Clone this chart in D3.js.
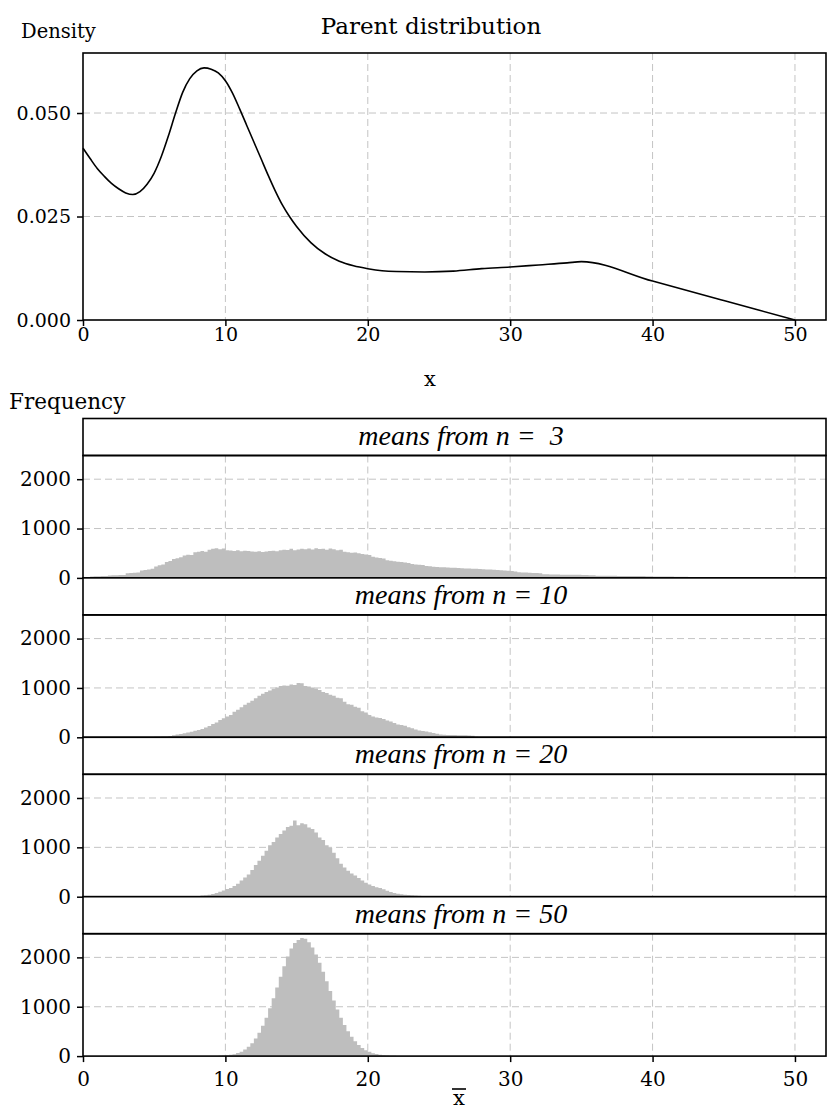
<!DOCTYPE html>
<html><head><meta charset="utf-8">
<script src="https://cdn.jsdelivr.net/npm/d3@7/dist/d3.min.js"></script>
<style>
body{margin:0;background:#fff}
svg{display:block}
text{font-family:"DejaVu Serif",serif;fill:#000}
</style>
</head><body>
<svg id="chart" width="827" height="1109"></svg>
<script>
// ---------- data ----------
const densityX = [0,0.5,1,1.5,2,2.5,3,3.5,4,4.5,5,5.5,6,6.5,7,7.5,8,8.5,9,9.5,10,10.5,11,11.5,12,12.5,13,13.5,14,14.5,15,16,17,18,19,20,21,22,24,26,28,30,32,34,35,40,45,50];
const densityY = [0.0415,0.0390,0.0366,0.0347,0.0330,0.0317,0.0307,0.0303,0.0310,0.0328,0.0355,0.0395,0.0445,0.0500,0.0550,0.0583,0.0602,0.0609,0.0606,0.0597,0.0578,0.0548,0.0510,0.0470,0.0430,0.0390,0.0350,0.0312,0.0278,0.0250,0.0226,0.0187,0.0160,0.0142,0.0131,0.0124,0.0119,0.0117,0.0116,0.0118,0.0124,0.0128,0.0133,0.0138,0.0141,0.0094,0.0047,0.0000];
const xTicks = [0,10,20,30,40,50];
const densityTicks = [0,0.025,0.05];
const densityTickLabels = ["0.000","0.025","0.050"];
const freqTicks = [0,1000,2000];
const binWidth = 0.25;
const stripLabels = ["means from n =  3","means from n = 10","means from n = 20","means from n = 50"];

const binStartN3 = 0;
const countsN3 = [12,15, 30,32,35,36,38, 50,55,56,58,60, 95,100,105,110, 150,160,170,185, 230,255,270, 320,340, 385,400,420, 455,470,465, 520,530,545,530, 570,590,600,580,595,
 560,555,545,560,540,550,545, 535,530,540,525,535, 545,550,540,560, 570,565,590,560,575,
 590,580,595,575,600,585,590,570,595,580,560,570, 530,520,510,515,500, 485,475,465, 430,415,405,395,
 360,345,335,325,320,310,300, 280,270,265,260, 240,235,225,220,215,215,210, 205,205,200, 195,190,188,185,185,180,
 175,172,170,165,160, 155,150,145, 138,132, 115,110,108,105, 100,98,95,
 75,72,70,68,68,66,66,64,63,62,62,60, 58,56,54,
 45,44,43,43,42,42,41,40,40,39,38,38,37,36,35,34,
 30,29,28,28,27,26,25,24,23,22,20, 12,10,9,10,8,6,5,3,2];

const binStartN10 = 4.5;
const countsN10 = [5,8,10,12,15,18, 25,40,55,65, 80,95,110,135, 150,170,200,230, 270,300,350,385,
 420,450,520,560, 610,660,700,740, 790,840,880,920, 950,985,1010,1040, 1050,1045,1070,1060,
 1100,1095,1040,1030, 1010,990,960,920, 900,860,840,800, 790,720,670,660, 620,600,530,500,
 450,420,400,390, 370,340,320,290, 260,250,235,205, 185,160,140,130, 120,100,85,70,
 55,50,48,46, 45,44,42,40, 35,30,12,8, 6,5,4,3, 2,2,1,1, 0,0,0,0, 0,2,0,1,2,1];

const binStartN20 = 6.0;
const countsN20 = [2,2,3,4, 5,7,9,12, 16,22,30,42, 55,75,98,125, 155,175,215,260, 330,390,450,540,
 640,730,830,930, 1040,1110,1200,1270, 1340,1410,1440,1545, 1450,1490,1470,1400, 1370,1300,1200,1150,
 1040,990,890,780, 670,590,525,470, 430,380,330,285, 245,215,190,175, 150,120,95,75,
 60,50,42,35, 30,25,20,16, 13,11,9,7, 6,5,4,3, 3,2,2,1, 1];

const binStartN50 = 8.5;
const countsN50 = [1,2,3,4,6,10,16,25,40,61,90,132,188,261,355,472,614,779,967,1172,1390,1609,1822,2016,
 2179,2290,2350,2395,2380,2305,2198,2058,1893,1709,1515,1318,1127,946,779,631,501,391,299,225,
 166,120,86,60,41,28,19,13,9,6,4,3,2,1];

const panels = [
  {label: stripLabels[0], start: binStartN3, counts: countsN3},
  {label: stripLabels[1], start: binStartN10, counts: countsN10},
  {label: stripLabels[2], start: binStartN20, counts: countsN20},
  {label: stripLabels[3], start: binStartN50, counts: countsN50}
];

// ---------- layout ----------
const svg = d3.select("#chart");
const L = 83, R = 826;
const gridColor = "#c4c4c4";
const barColor = "#bebebe";

// Top panel
const topY0 = 53, topY1 = 320;
const xTop = d3.scaleLinear().domain([0, 52.18]).range([L, R]);
const yTop = d3.scaleLinear().domain([0, 0.0645]).range([topY1, topY0]);

const gTop = svg.append("g");
gTop.selectAll("line.vg").data(xTicks.filter(d=>d>0)).join("line")
  .attr("x1", d=>xTop(d)).attr("x2", d=>xTop(d)).attr("y1", topY0).attr("y2", topY1)
  .attr("stroke", gridColor).attr("stroke-dasharray","7,4");
gTop.selectAll("line.hg").data(densityTicks.filter(d=>d>0)).join("line")
  .attr("x1", L).attr("x2", R).attr("y1", d=>yTop(d)).attr("y2", d=>yTop(d))
  .attr("stroke", gridColor).attr("stroke-dasharray","7,4");
const pts = densityX.map((x,i)=>[x, densityY[i]]);
gTop.append("path").datum(pts)
  .attr("d", d3.line().x(d=>xTop(d[0])).y(d=>yTop(d[1])).curve(d3.curveMonotoneX))
  .attr("fill","none").attr("stroke","#000").attr("stroke-width",1.6);
gTop.append("rect").attr("x",L).attr("y",topY0).attr("width",R-L).attr("height",topY1-topY0)
  .attr("fill","none").attr("stroke","#000").attr("stroke-width",1.6);
const axTopX = gTop.append("g").attr("transform",`translate(0,${topY1})`)
  .call(d3.axisBottom(xTop).tickValues(xTicks).tickSize(6).tickPadding(2).tickFormat(d3.format("d")));
const axTopY = gTop.append("g").attr("transform",`translate(${L},0)`)
  .call(d3.axisLeft(yTop).tickValues(densityTicks).tickSize(6).tickPadding(6).tickFormat((d,i)=>densityTickLabels[i]));
[axTopX, axTopY].forEach(a=>{
  a.select(".domain").remove();
  a.selectAll(".tick line").attr("stroke","#000").attr("stroke-width",1.5);
  a.selectAll(".tick text").style("font-family","DejaVu Serif").style("font-size","19px").attr("fill","#000");
});
svg.append("text").attr("x",431).attr("y",34).attr("text-anchor","middle").style("font-size","23px").text("Parent distribution");
svg.append("text").attr("x",21).attr("y",38).style("font-size","19.5px").text("Density");
svg.append("text").attr("x",430).attr("y",386).attr("text-anchor","middle").style("font-size","21px").text("x");

// Histogram panels
const pTop0 = 418.5, pH = 159.4, stripH = 37;
const xB = d3.scaleLinear().domain([0, 52.18]).range([L, R]);
svg.append("text").attr("x",9).attr("y",409).style("font-size","21.5px").text("Frequency");

panels.forEach((p, k) => {
  const top = pTop0 + k*pH;
  const plotTop = top + stripH;
  const bottom = top + pH;
  const y = d3.scaleLinear().domain([0, 2480]).range([bottom, plotTop]);
  const g = svg.append("g");
  g.selectAll("line.vg").data(xTicks.filter(d=>d>0)).join("line")
    .attr("x1", d=>xB(d)).attr("x2", d=>xB(d)).attr("y1", plotTop).attr("y2", bottom)
    .attr("stroke", gridColor).attr("stroke-dasharray","7,4");
  g.selectAll("line.hg").data(freqTicks.filter(d=>d>0)).join("line")
    .attr("x1", L).attr("x2", R).attr("y1", d=>y(d)).attr("y2", d=>y(d))
    .attr("stroke", gridColor).attr("stroke-dasharray","7,4");
  // histogram as a stepped area (one bar per bin, no seams)
  const steps = p.counts.map((c,i)=>({x: p.start + i*binWidth, c}));
  steps.push({x: p.start + p.counts.length*binWidth, c: 0});
  g.append("path").datum(steps)
    .attr("d", d3.area().x(d=>xB(d.x)).y0(y(0)).y1(d=>y(d.c)).curve(d3.curveStepAfter))
    .attr("fill", barColor);
  g.append("rect").attr("x",L).attr("y",top).attr("width",R-L).attr("height",stripH)
    .attr("fill","#fff").attr("stroke","#000").attr("stroke-width",1.6);
  g.append("text").attr("x",461).attr("y",top+26).attr("text-anchor","middle")
    .style("font-family","'Liberation Serif',serif")
    .style("font-size","28px").style("font-style","italic").style("white-space","pre").text(p.label);
  g.append("rect").attr("x",L).attr("y",plotTop).attr("width",R-L).attr("height",bottom-plotTop)
    .attr("fill","none").attr("stroke","#000").attr("stroke-width",1.6);
  const ay = g.append("g").attr("transform",`translate(${L},0)`)
    .call(d3.axisLeft(y).tickValues(freqTicks).tickSize(6).tickPadding(6).tickFormat(d3.format("d")));
  ay.select(".domain").remove();
  ay.selectAll(".tick line").attr("stroke","#000").attr("stroke-width",1.5);
  ay.selectAll(".tick text").style("font-family","DejaVu Serif").style("font-size","20px").attr("fill","#000");
  if (k === panels.length-1) {
    const ax = g.append("g").attr("transform",`translate(0,${bottom})`)
      .call(d3.axisBottom(xB).tickValues(xTicks).tickSize(6).tickPadding(10).tickFormat(d3.format("d")));
    ax.select(".domain").remove();
    ax.selectAll(".tick line").attr("stroke","#000").attr("stroke-width",1.5);
    ax.selectAll(".tick text").style("font-family","DejaVu Serif").style("font-size","20px").attr("fill","#000");
  }
});
// x-bar label
svg.append("text").attr("x",459).attr("y",1105).attr("text-anchor","middle").style("font-size","21px").text("x");
svg.append("line").attr("x1",452).attr("x2",466).attr("y1",1089).attr("y2",1089).attr("stroke","#000").attr("stroke-width",1.6);
</script>
</body></html>
